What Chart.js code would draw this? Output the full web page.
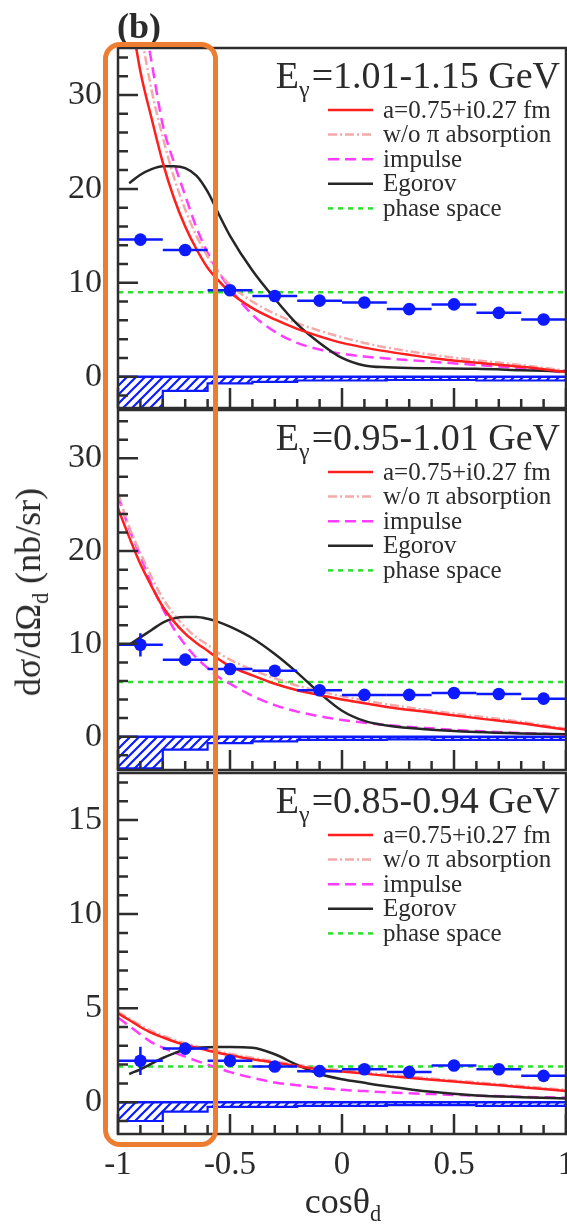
<!DOCTYPE html>
<html>
<head>
<meta charset="utf-8">
<script src="https://cdn.jsdelivr.net/npm/chart.js@4.4.1/dist/chart.umd.min.js"></script>
<style>
  body { margin: 0; background: #fff; width: 567px; height: 1232px; position: relative; overflow: hidden;
         font-family: "Liberation Serif", "Times New Roman", serif; color: #2b2b2b; }
  canvas { position: absolute; left: 0; }
  .lbl { position: absolute; white-space: nowrap; line-height: 36px; }
  .lbl sub { font-size: 62%; vertical-align: -0.35em; line-height: 0; }
  #tag { left: 117px; top: 8px; font-size: 36px; font-weight: bold; }
  #ytitle { left: 28px; top: 592px; font-size: 36px; transform: translate(-50%, -50%) rotate(-90deg); }
  #xtitle { left: 343px; top: 1183px; font-size: 36px; transform: translateX(-50%); }
  #mark { position: absolute; left: 103px; top: 42px; width: 115px; height: 1105px; box-sizing: border-box;
          border: 5px solid #ed7d31; border-radius: 17px; }
</style>
</head>
<body>
<canvas id="p1" width="567" height="411" style="top:0"></canvas>
<canvas id="p2" width="567" height="365" style="top:408px"></canvas>
<canvas id="p3" width="567" height="462" style="top:770px"></canvas>
<div id="tag" class="lbl">(b)</div>
<div id="ytitle" class="lbl">dσ/dΩ<sub>d</sub> (nb/sr)</div>
<div id="xtitle" class="lbl">cosθ<sub>d</sub></div>
<div id="mark"></div>
<script>
// shared x values
const curveX = [-1, -0.95, -0.9, -0.85, -0.8, -0.75, -0.7, -0.65, -0.6, -0.55, -0.5, -0.4, -0.3, -0.2, -0.1, 0, 0.1, 0.2, 0.4, 0.6, 0.8, 1];
const pointX = [-0.9, -0.7, -0.5, -0.3, -0.1, 0.1, 0.3, 0.5, 0.7, 0.9];
const binEdges = [-1, -0.8, -0.6, -0.4, -0.2, 0, 0.2, 0.4, 0.6, 0.8, 1];
const phaseX = [-1, 1];
const xTickVals = [-1, -0.5, 0, 0.5, 1];
const xTickText = ['-1', '-0.5', '0', '0.5', '1'];
const legendLabels = ['a=0.75+i0.27 fm', 'w/o π absorption', 'impulse', 'Egorov', 'phase space'];
const energyBins = ['1.01-1.15', '0.95-1.01', '0.85-0.94'];

// panel 1: E = 1.01-1.15 GeV
const data1 = [14.6, 13.5, 9.2, 8.6, 8.1, 7.9, 7.2, 7.7, 6.8, 6.1];
const err1 = [0.6, 0.3, 0.3, 0.3, 0.3, 0.3, 0.3, 0.3, 0.3, 0.3];
const sys1 = [3.4, 1.5, 0.7, 0.55, 0.4, 0.4, 0.35, 0.35, 0.4, 0.4];
const red1 = [46, 39.5, 32.5, 27.5, 22.8, 19.0, 16.0, 13.6, 11.6, 10.2, 9.0, 7.3, 6.1, 5.1, 4.3, 3.6, 3.1, 2.7, 2.0, 1.5, 1.05, 0.5];
const noabs1 = [52, 44, 37, 30.5, 25.5, 21.2, 17.8, 15.0, 12.8, 11.1, 9.8, 8.0, 6.7, 5.7, 4.9, 4.2, 3.6, 3.1, 2.35, 1.75, 1.25, 0.65];
const imp1 = [58, 49, 40.5, 33.5, 26.8, 22.8, 19.3, 15.9, 13.2, 11.1, 9.4, 6.6, 4.8, 3.6, 2.9, 2.45, 2.15, 1.95, 1.6, 1.25, 0.9, 0.45];
const ego1 = [null, 20.6, 21.5, 22.1, 22.4, 22.4, 22.2, 21.4, 19.7, 17.3, 15.0, 11.3, 8.3, 5.6, 3.6, 2.0, 1.2, 1.0, 0.9, 0.85, 0.7, 0.55];
const phase1 = [9.0, 9.0];

// panel 2: E = 0.95-1.01 GeV
const data2 = [9.9, 8.3, 7.3, 7.1, 5.0, 4.5, 4.5, 4.7, 4.6, 4.1];
const err2 = [1.25, 0.4, 0.3, 0.3, 0.3, 0.3, 0.3, 0.3, 0.3, 0.3];
const sys2 = [3.4, 1.4, 0.7, 0.5, 0.35, 0.35, 0.3, 0.35, 0.35, 0.35];
const red2 = [24.6, 21.5, 18.6, 16.2, 14.0, 12.4, 11.1, 10.1, 9.25, 8.35, 7.6, 6.6, 5.7, 5.0, 4.5, 4.0, 3.6, 3.2, 2.6, 2.0, 1.45, 0.75];
const noabs2 = [26.3, 22.6, 19.8, 17.2, 14.9, 13.2, 11.8, 10.7, 9.9, 9.0, 8.3, 7.2, 6.3, 5.5, 4.9, 4.35, 3.9, 3.5, 2.8, 2.2, 1.6, 0.85];
const imp2 = [26, 22.4, 19.5, 16.4, 13.8, 11.6, 9.9, 8.5, 7.4, 6.4, 5.7, 4.4, 3.4, 2.7, 2.2, 1.8, 1.5, 1.25, 0.9, 0.6, 0.4, 0.2];
const ego2 = [null, 9.9, 10.7, 11.5, 12.3, 12.75, 12.9, 12.9, 12.7, 12.35, 11.85, 10.6, 8.9, 6.9, 4.7, 2.8, 1.7, 1.2, 0.75, 0.5, 0.35, 0.25];
const phase2 = [5.9, 5.9];

// panel 3: E = 0.85-0.94 GeV
const data3 = [2.2, 2.85, 2.2, 1.9, 1.65, 1.75, 1.6, 1.95, 1.75, 1.4];
const err3 = [0.75, 0.2, 0.15, 0.15, 0.15, 0.15, 0.15, 0.15, 0.15, 0.15];
const sys3 = [1.0, 0.5, 0.25, 0.25, 0.2, 0.2, 0.15, 0.15, 0.2, 0.2];
const red3 = [4.72, 4.37, 4.0, 3.68, 3.45, 3.23, 3.05, 2.9, 2.75, 2.62, 2.5, 2.28, 2.1, 1.92, 1.75, 1.63, 1.52, 1.4, 1.2, 1.0, 0.8, 0.6];
const noabs3 = [4.8, 4.45, 4.1, 3.78, 3.54, 3.32, 3.13, 2.98, 2.83, 2.7, 2.58, 2.36, 2.17, 1.99, 1.82, 1.7, 1.58, 1.47, 1.26, 1.06, 0.86, 0.66];
const imp3 = [4.5, 4.05, 3.6, 3.18, 2.9, 2.65, 2.42, 2.2, 2.0, 1.8, 1.6, 1.3, 1.05, 0.9, 0.76, 0.66, 0.59, 0.53, 0.43, 0.35, 0.29, 0.24];
const ego3 = [null, 1.5, 1.75, 2.05, 2.35, 2.6, 2.8, 2.88, 2.92, 2.93, 2.93, 2.9, 2.55, 1.98, 1.5, 1.22, 1.03, 0.85, 0.55, 0.36, 0.27, 0.2];
const phase3 = [1.9, 1.9];

const BLUE = '#0d1aff';
const AXIS = '#2e2e2e';
const FONT = "'Liberation Serif', 'Times New Roman', serif";

function hatch(ctx) {
  const c = document.createElement('canvas');
  c.width = 9; c.height = 9;
  const g = c.getContext('2d');
  g.fillStyle = '#fff';
  g.fillRect(0, 0, 9, 9);
  g.strokeStyle = BLUE;
  g.lineWidth = 2.2;
  g.beginPath();
  g.moveTo(-2, 11); g.lineTo(11, -2);
  g.moveTo(-2, 2); g.lineTo(2, -2);
  g.moveTo(7, 11); g.lineTo(11, 7);
  g.stroke();
  return ctx.createPattern(c, 'repeat');
}

function noPad(s) {
  s.paddingLeft = 0; s.paddingRight = 0; s.paddingTop = 0; s.paddingBottom = 0;
}

/* error bars, frame, inner ticks, legend */
const deco = {
  id: 'deco',
  beforeDatasetDraw(chart, args) {
    const ds = chart.data.datasets[args.index];
    if (!ds.errY) return;
    const { ctx, chartArea: a, scales: { x, y } } = chart;
    ctx.save();
    ctx.beginPath(); ctx.rect(a.left, a.top, a.width, a.height); ctx.clip();
    ctx.strokeStyle = ds.backgroundColor;
    ctx.lineWidth = 2.5;
    ds.data.forEach((p, i) => {
      const px = x.getPixelForValue(p.x), py = y.getPixelForValue(p.y);
      ctx.beginPath();
      ctx.moveTo(x.getPixelForValue(p.x - ds.errX), py);
      ctx.lineTo(x.getPixelForValue(p.x + ds.errX), py);
      ctx.moveTo(px, y.getPixelForValue(p.y - ds.errY[i]));
      ctx.lineTo(px, y.getPixelForValue(p.y + ds.errY[i]));
      ctx.stroke();
    });
    ctx.restore();
  },
  afterDraw(chart, args, o) {
    const { ctx, chartArea: a, scales: { x, y } } = chart;
    ctx.save();
    ctx.strokeStyle = AXIS;
    ctx.lineWidth = 2.5;
    ctx.setLineDash([]);
    ctx.strokeRect(a.left, a.top, a.width, a.height);

    // ticks pointing inward
    ctx.beginPath();
    for (let k = -10; k <= 10; k++) {
      const px = x.getPixelForValue(k / 10);
      const len = k % 5 === 0 ? 20 : 9;
      ctx.moveTo(px, a.bottom); ctx.lineTo(px, a.bottom - len);
    }
    const start = Math.ceil(y.min / o.minor) * o.minor;
    for (let v = start; v <= y.max + 1e-9; v += o.minor) {
      const py = y.getPixelForValue(v);
      const len = o.major.includes(Math.round(v * 100) / 100) ? 20 : 10;
      ctx.moveTo(a.left, py); ctx.lineTo(a.left + len, py);
    }
    ctx.stroke();

    // title E_gamma = ...
    ctx.fillStyle = '#2b2b2b';
    ctx.textBaseline = 'alphabetic';
    const base = a.top + 40;
    const big = '38px ' + FONT, small = '24px ' + FONT;
    const rest = '=' + o.energy + ' GeV';
    ctx.font = big;
    const wE = ctx.measureText('E').width, wR = ctx.measureText(rest).width;
    ctx.font = small;
    const wG = ctx.measureText('γ').width;
    let tx = a.right - 6 - (wE + wG + 2 + wR);
    ctx.font = big; ctx.fillText('E', tx, base);
    ctx.font = small; ctx.fillText('γ', tx + wE, base + 9);
    ctx.font = big; ctx.fillText(rest, tx + wE + wG + 2, base);

    // legend rows
    const rows = chart.data.datasets.filter(d => d.legendPos !== undefined)
      .sort((p, q) => p.legendPos - q.legendPos);
    ctx.font = '25px ' + FONT;
    ctx.textBaseline = 'middle';
    rows.forEach((d, i) => {
      const cy = a.top + 62 + i * 24.6;
      ctx.strokeStyle = d.borderColor;
      ctx.lineWidth = d.borderWidth;
      ctx.setLineDash(d.borderDash || []);
      ctx.beginPath();
      ctx.moveTo(a.right - 238, cy); ctx.lineTo(a.right - 193, cy);
      ctx.stroke();
      ctx.fillText(d.label, a.right - 183, cy + 1);
    });
    ctx.restore();
  }
};

function pts(xs, ys) {
  return xs.map((x, i) => ({ x: x, y: ys[i] })).filter(p => p.y !== null);
}

function makePanel(id, p) {
  const ctx = document.getElementById(id).getContext('2d');
  const curve = { showLine: true, pointRadius: 0, borderWidth: 2.5, cubicInterpolationMode: 'monotone', fill: false };
  const xScale = p.showX ? {
    type: 'linear', min: -1, max: 1,
    afterBuildTicks: s => { s.ticks = xTickVals.map(v => ({ value: v })); },
    afterFit: s => { s.height = p.xHeight; noPad(s); },
    grid: { display: false, drawTicks: false },
    border: { display: false },
    ticks: {
      font: { family: FONT, size: 33 }, color: '#2b2b2b', padding: 12, maxRotation: 0, autoSkip: false,
      callback: v => xTickText[xTickVals.indexOf(v)]
    }
  } : { type: 'linear', min: -1, max: 1, display: false, afterFit: noPad };

  return new Chart(ctx, {
    type: 'scatter',
    data: {
      datasets: [
        { label: 'data', data: pts(pointX, p.data), errX: 0.1, errY: p.err,
          backgroundColor: BLUE, pointRadius: 6.3, pointBorderWidth: 0, pointHoverRadius: 6.3 },
        Object.assign({ label: legendLabels[0], legendPos: 0, data: pts(curveX, p.red), borderColor: '#ff1f1f' }, curve),
        Object.assign({ label: legendLabels[3], legendPos: 3, data: pts(curveX, p.ego), borderColor: '#262626' }, curve),
        Object.assign({ label: legendLabels[1], legendPos: 1, data: pts(curveX, p.noabs), borderColor: '#f4aaaa',
          borderDash: [9, 3, 2, 3] }, curve),
        Object.assign({ label: legendLabels[2], legendPos: 2, data: pts(curveX, p.imp), borderColor: '#ff3cff',
          borderDash: [11, 6] }, curve),
        Object.assign({ label: legendLabels[4], legendPos: 4, data: pts(phaseX, p.phase), borderColor: '#2ee02e',
          borderDash: [5, 5] }, curve),
        { label: 'sys baseline', data: pts(phaseX, [0, 0]), showLine: true, pointRadius: 0,
          borderColor: BLUE, borderWidth: 2.5 },
        { label: 'sys', data: pts(binEdges, p.sys.map(v => -v).concat([-p.sys[p.sys.length - 1]])),
          showLine: true, stepped: true, pointRadius: 0, borderColor: BLUE, borderWidth: 2.2,
          fill: 'origin', backgroundColor: hatch(ctx) }
      ]
    },
    options: {
      responsive: false,
      animation: false,
      events: [],
      layout: { padding: p.pad, autoPadding: false },
      plugins: {
        legend: { display: false },
        tooltip: { enabled: false },
        deco: { energy: p.energy, minor: p.minor, major: p.yTicks }
      },
      scales: {
        x: xScale,
        y: {
          type: 'linear', min: p.yMin, max: p.yMax,
          afterFit: s => { s.width = 118; noPad(s); },
          afterBuildTicks: s => { s.ticks = p.yTicks.map(v => ({ value: v })); },
          grid: { display: false, drawTicks: false },
          border: { display: false },
          ticks: { font: { family: FONT, size: 34 }, color: '#2b2b2b', padding: 16 }
        }
      }
    },
    plugins: [deco]
  });
}

makePanel('p1', { energy: energyBins[0], data: data1, err: err1, sys: sys1, red: red1, noabs: noabs1, imp: imp1,
  ego: ego1, phase: phase1, yMin: -3.33, yMax: 35, yTicks: [0, 10, 20, 30], minor: 2,
  pad: { top: 48, bottom: 3, left: 0, right: 1 }, showX: false });
makePanel('p2', { energy: energyBins[1], data: data2, err: err2, sys: sys2, red: red2, noabs: noabs2, imp: imp2,
  ego: ego2, phase: phase2, yMin: -3.59, yMax: 35.2, yTicks: [0, 10, 20, 30], minor: 2,
  pad: { top: 2, bottom: 3, left: 0, right: 1 }, showX: false });
makePanel('p3', { energy: energyBins[2], data: data3, err: err3, sys: sys3, red: red3, noabs: noabs3, imp: imp3,
  ego: ego3, phase: phase3, yMin: -1.69, yMax: 17.5, yTicks: [0, 5, 10, 15], minor: 1,
  pad: { top: 3, bottom: 0, left: 0, right: 1 }, showX: true, xHeight: 98 });
</script>
</body>
</html>
